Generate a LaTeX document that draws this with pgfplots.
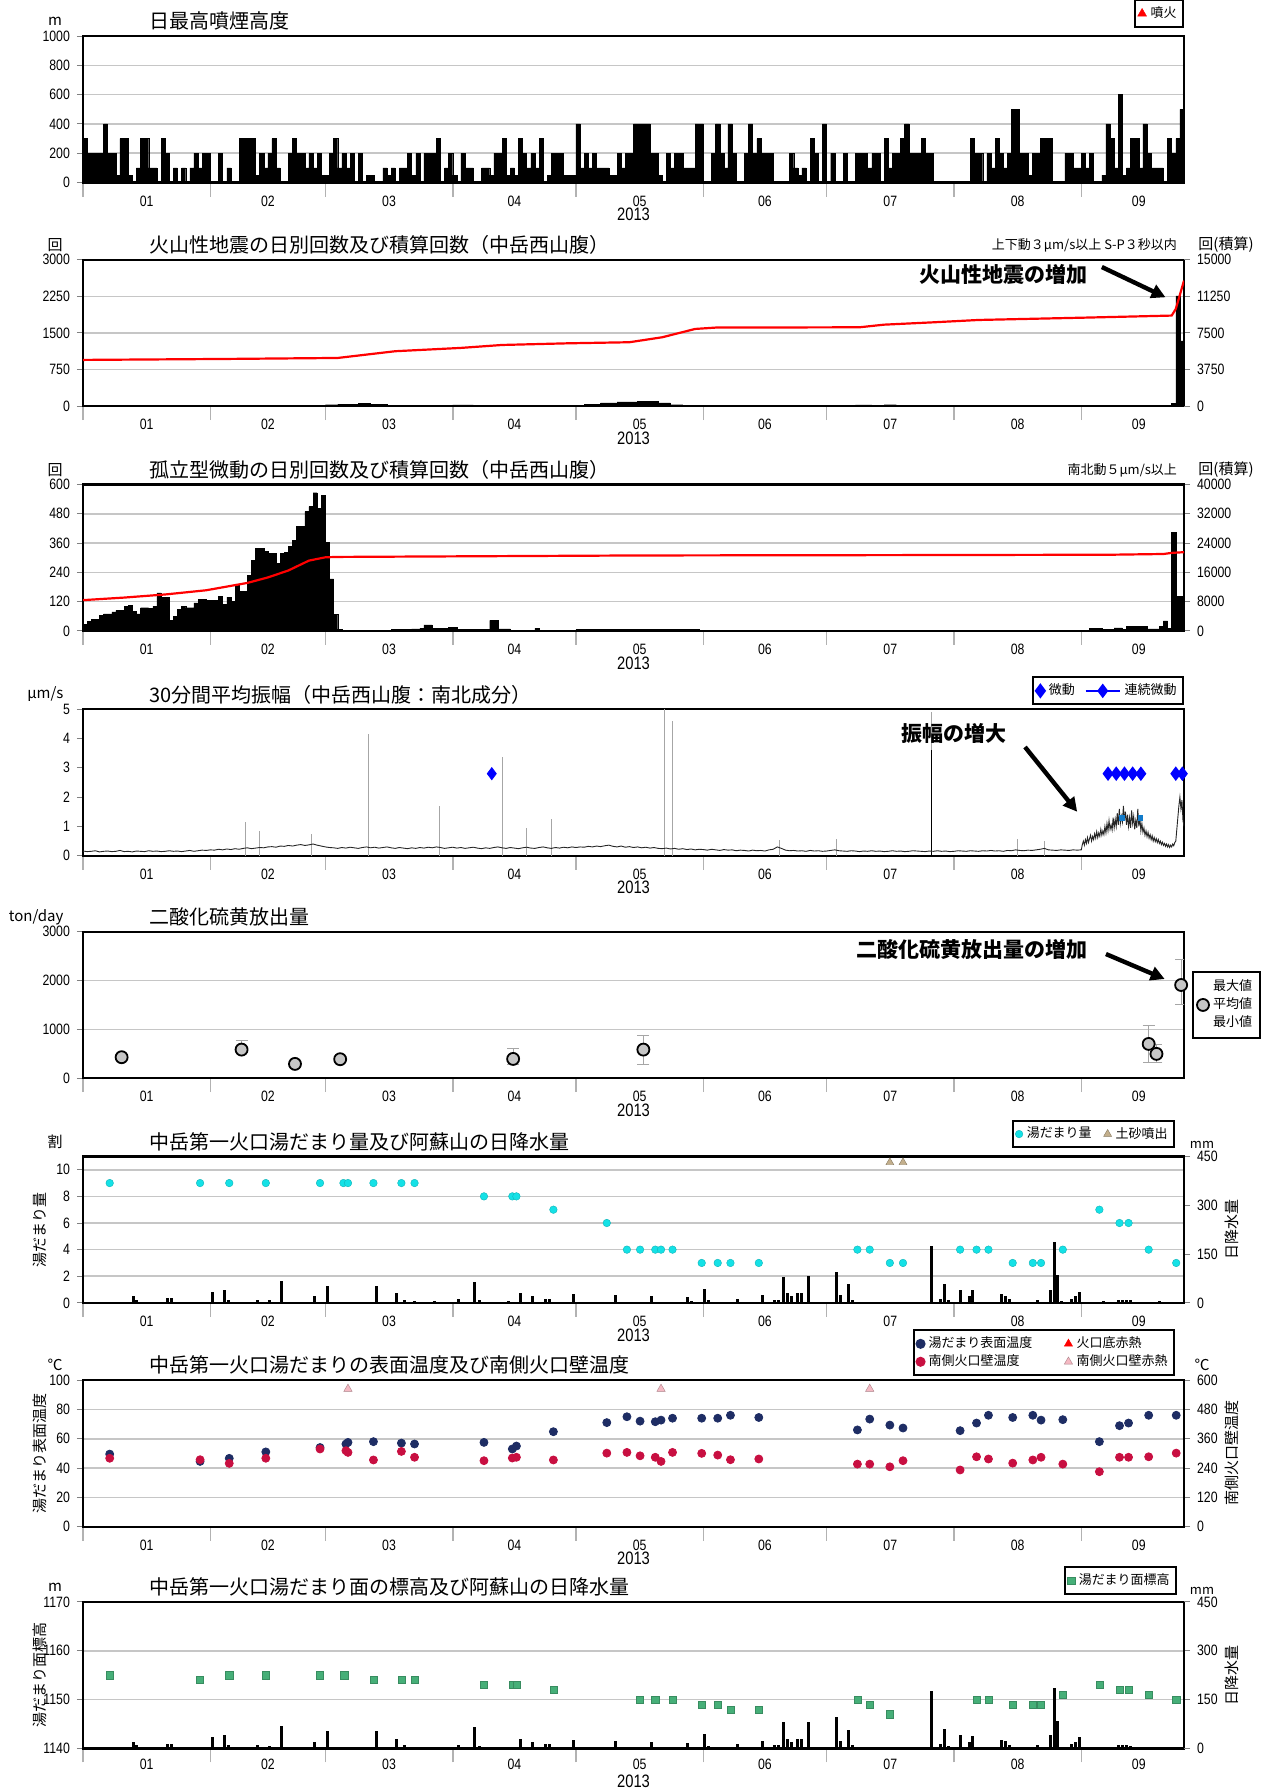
\documentclass[border=0pt]{standalone}
\usepackage{fontspec}
\setmainfont{Noto Sans CJK JP}
\newfontfamily\tf{Liberation Sans}[FakeStretch=0.82]
\usepackage{pgfplots}
\usepackage{pgfplotstable}
\pgfplotsset{compat=1.18}
\usetikzlibrary{arrows.meta}
\newcommand{\tk}{\tf\fontsize{7.5}{8}\selectfont}
\newcommand{\ty}{\tf\fontsize{9}{10}\selectfont}
\newcommand{\jt}{\fontsize{10}{11}\selectfont}
\newcommand{\jn}{\fontsize{6.5}{7}\selectfont}
\newcommand{\ju}{\fontsize{7.5}{8}\selectfont}
\newcommand{\jb}{\bfseries\fontsize{10.5}{11}\selectfont}
\definecolor{navy}{RGB}{30,45,100}
\definecolor{crim}{RGB}{200,15,65}
\definecolor{aqua}{RGB}{20,225,230}
\definecolor{tanc}{RGB}{195,175,140}
\definecolor{pinkt}{RGB}{245,185,195}
\definecolor{grn}{RGB}{70,175,120}
\pgfplotsset{
 base/.style={scale only axis, width=550.5pt, height=73.25pt, xmin=0, xmax=268,
  axis line style={line width=1.1pt},
  tick align=outside, major tick length=3pt, minor tick length=7pt,
  xtick={15.5,45,74.5,105,135.5,166,196.5,227.5,257},
  xticklabels={01,02,03,04,05,06,07,08,09},
  major x tick style={draw=none},
  minor xtick={0,31,59,90,120,151,181,212,243},
  minor x tick style={gray!60, line width=0.8pt},
  xtick pos=bottom, ytick pos=left,
  scaled y ticks=false,
  tick label style={font=\tk},
  ytick style={line width=0.5pt},
  ymajorgrids, grid style={gray!45, line width=0.8pt},
  legend cell align=left,
  legend style={draw=black, line width=1pt, font=\jn, at={(1,1)}, anchor=south east, inner sep=1.2pt, row sep=-1pt},
 },
 rbase/.style={scale only axis, width=550.5pt, height=73.25pt, xmin=0, xmax=268,
  axis x line=none, axis y line*=right, axis line style={line width=1.1pt}, scaled y ticks=false,
  tick align=outside, major tick length=3pt, tick label style={font=\tk}, ytick style={line width=0.5pt}},
}
\pgfplotstableread{
d mm
12.4 20
13 10
20.5 15
21.5 15
31.5 34
34.4 41
35.4 10
42.5 10
45.5 8
48.4 68
56.3 20
59.4 52
71.4 52
76.4 29
78.3 10
80.7 5
85.6 5
91.5 12
95.4 65
96.4 8
103.5 5
106.5 29
109.4 20
112.6 13
113.6 13
119.5 26
129.5 24
138.4 20
147.2 18
148.2 5
151.3 44
152.3 8
159.4 13
165.3 24
168.3 10
169.3 10
170.4 80
171.4 29
172.4 20
173.8 29
175 29
176.5 82
178.7 3
183.4 96
184.4 24
186.4 58
187.4 10
193.5 3
206.6 175
207.6 3
208.7 13
209.6 59
210.6 8
213.5 41
215.7 20
216.5 39
223.6 26
224.6 22
225.6 12
232.4 10
235.4 41
236.4 186
237.3 85
238.3 5
240.5 13
241.5 20
242.5 34
247.4 3
248.4 5
252 10
253 10
254 10
255 8
262 5
}\precip
\pgfplotstableread{
d s w
6.5 49.5 280
28.5 44.5 274
35.6 46.6 259
44.5 51 280
57.7 54 318
64 56.4 311
64.5 57.5 304
70.7 58 273
77.5 57 308
80.7 56.4 284
97.6 57.5 270
104.5 53 281
105.5 55 284
114.5 64.8 273
127.5 71 301
132.4 75 304
135.6 72 290
139.3 71.6 284
140.7 72.7 267
143.5 74 304
150.6 74 300
154.5 74 293
157.6 76 274
164.5 74.5 277
188.5 66 256
191.5 73.4 256
196.4 69.3 245
199.6 67.3 270
213.5 65.5 232
217.5 70.7 286
220.4 76 277
226.3 74.5 260
231.2 76 273
233.2 72.7 284
238.5 73 256
247.4 58 225
252.3 68.9 284
254.5 70.7 284
259.4 76 286
266.1 76 301
}\temps
\begin{document}
\begin{tikzpicture}
\useasboundingbox (0,0) rectangle (635.5pt,-894.5pt);
% ---------- Panel 1
\begin{axis}[base, name=p1, at={(41.5pt,-91.25pt)}, anchor=south west,
 ymin=0, ymax=1000, ytick={0,200,400,600,800,1000}, yticklabels={0,200,400,600,800,1000},
 legend style={yshift=4pt}]
\addplot[const plot, fill=black, draw=black, line width=0.2pt, forget plot] coordinates {
(0,300)(1,200)(5,400)(6,200)(8,50)(9,300)(11,50)(12,0)(13,100)(14,300)(16,100)(18,0)(19,300)(20,200)(21,0)(22,100)(23,0)(24,100)(25,0)(26,100)(27,200)(28,100)(29,200)(31,0)(33,200)(34,0)(35,100)(36,0)(38,300)(42,50)(43,200)(44,100)(45,200)(46,300)(47,100)(48,0)(50,200)(51,300)(52,200)(54,100)(55,200)(56,100)(57,200)(58,50)(60,200)(61,300)(62,100)(63,200)(64,100)(65,200)(66,0)(67,200)(68,0)(69,50)(71,0)(73,100)(74,50)(75,100)(76,0)(77,100)(79,200)(80,50)(81,200)(82,0)(83,200)(86,300)(87,0)(88,100)(89,200)(90,50)(91,0)(92,200)(93,100)(95,0)(97,100)(99,50)(100,200)(102,300)(103,50)(104,100)(105,50)(106,300)(107,200)(108,100)(109,200)(110,100)(111,300)(112,0)(113,50)(114,200)(117,50)(120,400)(121,100)(122,200)(123,100)(124,200)(125,100)(128,50)(130,200)(131,100)(132,200)(134,400)(138,200)(140,50)(141,0)(142,200)(143,100)(144,200)(146,100)(149,400)(151,0)(153,200)(154,400)(155,200)(156,100)(157,400)(158,200)(159,0)(161,200)(162,400)(163,200)(164,300)(165,200)(168,0)(172,200)(173,100)(174,50)(175,100)(176,0)(177,300)(178,200)(179,0)(180,400)(181,0)(182,200)(183,0)(185,200)(186,0)(188,200)(191,100)(192,200)(194,0)(195,300)(196,100)(197,200)(199,300)(200,400)(201,200)(204,300)(205,200)(207,0)(216,300)(217,200)(219,0)(220,200)(221,100)(222,300)(223,200)(224,100)(225,200)(226,500)(228,200)(230,50)(231,200)(233,300)(236,0)(239,200)(241,100)(243,200)(244,100)(245,200)(246,0)(248,50)(249,400)(250,300)(251,100)(252,600)(253,50)(254,100)(255,300)(257,100)(258,400)(259,200)(260,100)(263,0)(264,300)(265,200)(266,300)(267,500)(268,500)} \closedcycle;
\addlegendimage{only marks, mark=triangle*, mark size=2.6pt, mark options={fill=red, draw=red, line width=0.2pt}}
\addlegendentry{噴火}
\end{axis}
\node[anchor=west, font=\jt] at ([xshift=29.8pt, yshift=7.4pt]p1.north west) {日最高噴煙高度};
\node[font=\ju] at ([xshift=-14pt, yshift=7.4pt]p1.north west) {m};
\node[font=\ty] at ([yshift=-16pt]p1.south) {2013};
% ---------- Panel 2
\begin{axis}[base, name=p2, at={(41.5pt,-203.1pt)}, anchor=south west,
 ymin=0, ymax=3000, ytick={0,750,1500,2250,3000}, yticklabels={0,750,1500,2250,3000}]
\addplot[const plot, fill=black, draw=black, line width=0.2pt] coordinates {
(0,5)(59,30)(62,40)(67,60)(70,40)(74,20)(80,10)(90,25)(95,10)(100,20)(105,5)(122,40)(126,70)(130,90)(135,100)(140,70)(143,30)(146,5)(188,25)(192,15)(195,30)(198,10)(203,20)(206,5)(240,10)(265,60)(266,2260)(267,1340)(268,1340)} \closedcycle;
\node[font=\jb] at (axis cs:224,2707) {火山性地震の増加};
\draw[line width=2.2pt, -{Triangle[length=7pt,width=7pt]}] (axis cs:248,2850) -- (axis cs:263.5,2230);
\end{axis}
\begin{axis}[rbase, at={(41.5pt,-203.1pt)}, anchor=south west,
 ymin=0, ymax=15000, ytick={0,3750,7500,11250,15000}, yticklabels={0,3750,7500,11250,15000}]
\addplot[red, line width=1.1pt] coordinates {
(0,4740)(35,4840)(62,4940)(76,5630)(92,5970)(102,6270)(118,6440)(133,6550)(141,7060)(149,7910)(154,8050)(189,8080)(195,8350)(207,8590)(218,8830)(244,9070)(265,9280)(266,9960)(268,12860)};
\end{axis}
\node[anchor=west, font=\jt] at ([xshift=29.8pt, yshift=7.4pt]p2.north west) {火山性地震の日別回数及び積算回数（中岳西山腹）};
\node[font=\ju] at ([xshift=-14pt, yshift=7.4pt]p2.north west) {回};
\node[font=\ju] at ([xshift=21pt, yshift=7.4pt]p2.north east) {回(積算)};
\node[anchor=east, font=\jn] at ([xshift=0pt, yshift=7pt]p2.north east) {上下動３μm/s以上 S-P３秒以内};
\node[font=\ty] at ([yshift=-16pt]p2.south) {2013};
% ---------- Panel 3
\begin{axis}[base, name=p3, at={(41.5pt,-315.45pt)}, anchor=south west,
 ymin=0, ymax=600, ytick={0,120,240,360,480,600}, yticklabels={0,120,240,360,480,600}]
\addplot[const plot, fill=black, draw=black, line width=0.2pt] coordinates {
(0,27)(1,40)(2,47)(4,64)(5,70)(7,78)(8,84)(10,100)(11,106)(12,80)(13,70)(14,95)(16,92)(17,100)(18,156)(19,138)(21,43)(22,61)(23,88)(24,100)(25,95)(27,115)(28,129)(30,125)(33,142)(34,109)(35,138)(36,122)(37,187)(38,163)(40,228)(41,288)(42,337)(44,326)(45,318)(47,278)(48,318)(49,323)(50,346)(51,372)(52,427)(54,489)(55,509)(56,566)(57,502)(58,554)(59,364)(60,213)(61,68)(62,7)(63,3)(75,5)(80,8)(82,10)(83,25)(85,10)(89,16)(91,5)(99,43)(101,8)(104,3)(110,10)(111,3)(120,5)(150,2)(245,10)(248,5)(251,12)(253,5)(254,20)(259,8)(262,20)(263,41)(264,10)(265,403)(266,142)(268,142)} \closedcycle;
\end{axis}
\begin{axis}[rbase, at={(41.5pt,-315.45pt)}, anchor=south west,
 ymin=0, ymax=40000, ytick={0,8000,16000,24000,32000,40000}, yticklabels={0,8000,16000,24000,32000,40000}]
\addplot[red, line width=1.1pt] coordinates {
(0,8400)(10,9100)(20,9950)(30,11100)(40,13100)(45,14600)(50,16500)(55,19200)(59,20100)(62,20200)(135,20600)(200,20700)(250,20800)(263,21000)(265,21300)(268,21500)};
\end{axis}
\node[anchor=west, font=\jt] at ([xshift=29.8pt, yshift=7.4pt]p3.north west) {孤立型微動の日別回数及び積算回数（中岳西山腹）};
\node[font=\ju] at ([xshift=-14pt, yshift=7.4pt]p3.north west) {回};
\node[font=\ju] at ([xshift=21pt, yshift=7.4pt]p3.north east) {回(積算)};
\node[anchor=east, font=\jn] at ([xshift=0pt, yshift=7pt]p3.north east) {南北動５μm/s以上};
\node[font=\ty] at ([yshift=-16pt]p3.south) {2013};
% ---------- Panel 4
\begin{axis}[base, name=p4, at={(41.5pt,-427.85pt)}, anchor=south west,
 ymin=0, ymax=5, ytick={0,1,2,3,4,5}, yticklabels={0,1,2,3,4,5}, ymajorgrids=false,
 legend columns=2, legend style={yshift=2pt, /tikz/every even column/.append style={column sep=3pt}}]
\addplot[ycomb, gray!70, line width=0.5pt, forget plot] coordinates {
(39.5,1.14)(43,0.86)(55.7,0.75)(69.5,4.16)(86.7,1.7)(102,3.37)(108,0.94)(114,1.26)(141.5,5.0)(143.5,4.6)(169.5,0.54)(183.5,0.58)(206.5,4.9)(227.5,0.57)(234,0.49)};
\addplot[ycomb, black, line width=0.6pt, forget plot] coordinates {(206.5,3.6)};
\addplot[black!85, line width=0.45pt, forget plot] coordinates {
(0,.16)(1,.14)(2,.15)(3,.17)(4,.13)(5,.15)(6,.16)(7,.14)(8,.15)(9,.18)(10,.14)(11,.15)(12,.13)(13,.16)(14,.15)(15,.14)(16,.17)(17,.15)(18,.16)(19,.14)(20,.15)(21,.17)(22,.15)(23,.16)(24,.14)(25,.16)(26,.18)(27,.15)(28,.17)(29,.19)(30,.18)
(31,.2)(32,.19)(33,.22)(34,.2)(35,.23)(36,.21)(37,.24)(38,.22)(39,.25)(40,.27)(41,.24)(42,.26)(43,.28)(44,.27)(45,.3)
(46,.31)(47,.29)(48,.33)(49,.32)(50,.35)(51,.33)(52,.36)(53,.38)(54,.35)(55,.37)(56,.4)(57,.36)(58,.33)(59,.3)(60,.28)
(61,.27)(62,.25)(63,.28)(64,.26)(65,.29)(66,.27)(67,.25)(68,.28)(69,.3)(70,.27)(71,.29)(72,.26)(73,.28)(74,.3)(75,.27)(76,.25)(77,.28)(78,.26)(79,.24)(80,.27)(81,.25)(82,.28)(83,.26)(84,.29)(85,.27)(86,.3)(87,.28)(88,.25)(89,.27)(90,.29)(91,.26)(92,.28)(93,.25)(94,.27)(95,.29)(96,.26)(97,.24)(98,.27)(99,.25)(100,.28)(101,.3)(102,.27)(103,.25)(104,.28)(105,.26)(106,.24)(107,.27)(108,.29)(109,.26)(110,.25)(111,.28)(112,.3)(113,.27)(114,.25)(115,.28)(116,.26)(117,.29)(118,.27)(119,.3)(120,.28)
(121,.3)(122,.29)(123,.32)(124,.3)(125,.33)(126,.31)(127,.34)(128,.36)(129,.32)(130,.3)(131,.33)(132,.29)(133,.31)(134,.28)(135,.3)(136,.27)(137,.29)(138,.26)(139,.28)(140,.25)
(141,.24)(142,.26)(143,.23)(144,.25)(145,.22)(146,.24)(147,.21)(148,.23)(149,.2)(150,.22)(151,.21)(152,.19)(153,.22)(154,.2)(155,.18)(156,.21)(157,.19)(158,.2)(159,.17)(160,.19)
(161,.18)(162,.16)(163,.19)(164,.17)(165,.18)(166,.16)(167,.2)(168,.22)(169,.3)(170,.25)(171,.19)(172,.17)(173,.18)(174,.16)(175,.17)(176,.15)(177,.18)(178,.16)(179,.17)(180,.15)(181,.16)(182,.18)(183,.2)(184,.17)(185,.16)(186,.15)(187,.17)(188,.16)(189,.14)(190,.16)(191,.15)(192,.17)(193,.15)(194,.16)(195,.14)(196,.15)(197,.17)(198,.15)(199,.16)(200,.14)(201,.15)(202,.17)(203,.16)(204,.15)(205,.14)(206,.16)(207,.15)(208,.17)(209,.15)(210,.16)(211,.14)(212,.15)(213,.17)(214,.16)(215,.15)(216,.17)(217,.16)(218,.15)(219,.17)(220,.16)(221,.18)(222,.16)(223,.17)(224,.15)(225,.18)(226,.17)(227,.2)(228,.18)(229,.17)(230,.19)(231,.18)(232,.2)(233,.22)(234,.25)(235,.2)(236,.19)(237,.18)(238,.2)(239,.19)(240,.18)(241,.2)(242,.19)
(243,.2)(243.25,.38)(243.5,.5)(243.75,.36)(244,.55)(244.25,.42)(244.5,.62)(244.75,.45)(245,.58)(245.25,.7)(245.5,.5)(245.75,.66)(246,.55)(246.25,.75)(246.5,.6)(246.75,.82)(247,.62)(247.25,.78)(247.5,.66)(247.75,.9)(248,.7)(248.25,.85)(248.5,.72)(248.75,1.0)(249,.78)(249.25,1.1)(249.5,.85)(249.75,1.2)(250,.9)(250.25,1.05)(250.5,.88)(250.75,1.3)(251,.95)(251.25,1.25)(251.5,1.0)(251.75,1.45)(252,1.05)(252.25,1.6)(252.5,1.1)(252.75,1.35)(253,1.15)(253.25,1.7)(253.5,1.2)(253.75,1.5)(254,1.05)(254.25,1.4)(254.5,1.0)(254.75,1.3)(255,.95)(255.25,1.55)(255.5,1.1)(255.75,1.35)(256,.9)(256.25,1.2)(256.5,.95)(256.75,1.6)(257,1.0)(257.25,1.3)(257.5,.85)(257.75,1.1)(258,.8)(258.25,.95)(258.5,.7)(258.75,.85)(259,.65)(259.25,.8)(259.5,.6)(259.75,.72)(260,.55)(260.25,.68)(260.5,.5)(260.75,.62)(261,.48)(261.25,.58)(261.5,.45)(261.75,.55)(262,.42)(262.25,.5)(262.5,.38)(262.75,.46)(263,.35)(263.25,.42)(263.5,.32)(263.75,.4)(264,.3)(264.25,.38)(264.5,.28)(264.75,.36)(265,.3)(265.25,.4)(265.5,.34)(265.75,.45)(266,.5)(266.25,.9)(266.5,1.3)(266.75,1.7)(267,2.0)(267.25,1.6)(267.5,1.9)(267.75,1.2)(268,1.0)};
\addplot[only marks, mark=square*, mark size=1.2pt, color=cyan!60!blue, forget plot] coordinates {(252.9,1.3)(257.4,1.3)};
\addplot[only marks, mark=diamond*, mark size=3pt, color=blue] coordinates {(99.5,2.8)};
\addlegendentry{微動}
\addplot[blue, line width=0.8pt, mark=diamond*, mark size=3pt] coordinates {(249.5,2.8)(251.5,2.8)(253.5,2.8)(255.5,2.8)(257.5,2.8)};
\addlegendentry{連続微動}
\addplot[blue, line width=0.8pt, mark=diamond*, mark size=3pt, forget plot] coordinates {(266,2.8)(267.6,2.8)};
\node[font=\jb] at (axis cs:212,4.16) {振幅の増大};
\draw[line width=2.2pt, -{Triangle[length=7pt,width=7pt]}] (axis cs:229.3,3.71) -- (axis cs:242,1.5);
\end{axis}
\node[anchor=west, font=\jt] at ([xshift=29.8pt, yshift=7.4pt]p4.north west) {30分間平均振幅（中岳西山腹：南北成分）};
\node[font=\ju] at ([xshift=-18.8pt, yshift=7.4pt]p4.north west) {μm/s};
\node[font=\ty] at ([yshift=-16pt]p4.south) {2013};
% ---------- Panel 5
\begin{axis}[base, name=p5, at={(41.5pt,-539.1pt)}, anchor=south west,
 ymin=0, ymax=3000, ytick={0,1000,2000,3000}, yticklabels={0,1000,2000,3000},
 legend style={at={(1,0.5)}, anchor=west, xshift=4pt, inner sep=2pt}]
\addplot[only marks, mark=*, mark size=3pt, mark options={fill=gray!45, draw=black, line width=0.9pt},
 error bars/.cd, y dir=both, y explicit, error bar style={gray!70, line width=0.6pt}] coordinates {
(9.4,430) += (0,40) -= (0,40)
(38.6,586) += (0,184) -= (0,50)
(51.6,293) += (0,30) -= (0,30)
(62.6,389) += (0,31) -= (0,59)
(104.7,395) += (0,225) -= (0,122)
(136.4,586) += (0,287) -= (0,313)
(259.4,702) += (0,375) -= (0,375)
(261.3,498) += (0,192) -= (0,171)
(267.3,1909) += (0,531) -= (0,389)};
\addlegendimage{legend image code/.code={
 \draw[gray!70, line width=0.5pt] (0.15cm,-0.32cm) -- (0.15cm,0.32cm);
 \draw[gray!70, line width=0.5pt] (0.09cm,0.32cm) -- (0.21cm,0.32cm);
 \draw[gray!70, line width=0.5pt] (0.09cm,-0.32cm) -- (0.21cm,-0.32cm);
 \draw[black, fill=gray!45, line width=0.8pt] (0.15cm,0cm) circle (2.6pt);}}
\addlegendentry{\shortstack[l]{最大値\\平均値\\最小値}}
\node[font=\jb] at (axis cs:216.5,2645) {二酸化硫黄放出量の増加};
\draw[line width=2.2pt, -{Triangle[length=7pt,width=7pt]}] (axis cs:249,2543) -- (axis cs:263.3,2031);
\end{axis}
\node[anchor=west, font=\jt] at ([xshift=29.8pt, yshift=7.4pt]p5.north west) {二酸化硫黄放出量};
\node[font=\ju] at ([xshift=-23.4pt, yshift=7.4pt]p5.north west) {ton/day};
\node[font=\ty] at ([yshift=-16pt]p5.south) {2013};
% ---------- Panel 6
\begin{axis}[base, name=p6, at={(41.5pt,-651.45pt)}, anchor=south west,
 ymin=0, ymax=11, ytick={0,2,4,6,8,10}, yticklabels={0,2,4,6,8,10},
 legend columns=2, legend style={yshift=4pt, xshift=-4.5pt, /tikz/every even column/.append style={column sep=4pt}}]
\addplot[only marks, mark=*, mark size=1.9pt, mark options={fill=aqua, draw=aqua!80!black, line width=0.2pt}] coordinates {
(6.5,9)(28.5,9)(35.6,9)(44.5,9)(57.7,9)(63.4,9)(64.5,9)(70.7,9)(77.5,9)(80.7,9)(97.6,8)(104.5,8)(105.5,8)(114.5,7)(127.5,6)(132.4,4)(135.6,4)(139.3,4)(140.7,4)(143.5,4)(150.6,3)(154.5,3)(157.6,3)(164.5,3)(188.5,4)(191.5,4)(196.4,3)(199.6,3)(213.5,4)(217.5,4)(220.4,4)(226.3,3)(231.2,3)(233.2,3)(238.5,4)(247.4,7)(252.3,6)(254.5,6)(259.4,4)(266.1,3)};
\addlegendentry{湯だまり量}
\addplot[only marks, mark=triangle*, mark size=2.3pt, mark options={fill=tanc, draw=tanc!70!black, line width=0.2pt}] coordinates {(196.4,10.55)(199.6,10.55)};
\addlegendentry{土砂噴出}
\end{axis}
\begin{axis}[rbase, at={(41.5pt,-651.45pt)}, anchor=south west,
 ymin=0, ymax=450, ytick={0,150,300,450}, yticklabels={0,150,300,450}]
\addplot[ycomb, black, line width=1.5pt] table[x=d, y=mm] {\precip};
\end{axis}
\node[anchor=west, font=\jt] at ([xshift=29.8pt, yshift=7.4pt]p6.north west) {中岳第一火口湯だまり量及び阿蘇山の日降水量};
\node[font=\ju] at ([xshift=-14pt, yshift=7.4pt]p6.north west) {割};
\node[font=\jn] at ([xshift=9pt, yshift=5.7pt]p6.north east) {mm};
\node[rotate=90, font=\ju] at ([xshift=-21.5pt]p6.west) {湯だまり量};
\node[rotate=90, font=\ju] at ([xshift=24pt]p6.east) {日降水量};
\node[font=\ty] at ([yshift=-16pt]p6.south) {2013};
% ---------- Panel 7
\begin{axis}[base, name=p7, at={(41.5pt,-763.3pt)}, anchor=south west,
 ymin=0, ymax=100, ytick={0,20,40,60,80,100}, yticklabels={0,20,40,60,80,100},
 legend columns=2, legend style={yshift=2pt, xshift=-4.5pt, row sep=-2pt, /tikz/every even column/.append style={column sep=14pt}}]
\addplot[only marks, mark=*, mark size=2pt, mark options={fill=navy, draw=navy}] table[x=d, y=s] {\temps};
\addlegendentry{湯だまり表面温度}
\addlegendimage{only marks, mark=triangle*, mark size=2.4pt, mark options={fill=red, draw=red, line width=0.2pt}}
\addlegendentry{火口底赤熱}
\addplot[only marks, mark=*, mark size=2pt, mark options={fill=crim, draw=crim}] table[x=d, y expr=\thisrow{w}/6] {\temps};
\addlegendentry{南側火口壁温度}
\addplot[only marks, mark=triangle*, mark size=2.4pt, mark options={fill=pinkt, draw=pinkt!70!black, line width=0.2pt}] coordinates {(64.5,94)(140.7,94)(191.5,94)};
\addlegendentry{南側火口壁赤熱}
\end{axis}
\begin{axis}[rbase, at={(41.5pt,-763.3pt)}, anchor=south west,
 ymin=0, ymax=600, ytick={0,120,240,360,480,600}, yticklabels={0,120,240,360,480,600}]
\end{axis}
\node[anchor=west, font=\jt] at ([xshift=29.8pt, yshift=7.4pt]p7.north west) {中岳第一火口湯だまりの表面温度及び南側火口壁温度};
\node[font=\ju] at ([xshift=-14pt, yshift=7.4pt]p7.north west) {℃};
\node[font=\ju] at ([xshift=9pt, yshift=7.4pt]p7.north east) {℃};
\node[rotate=90, font=\ju] at ([xshift=-21.5pt]p7.west) {湯だまり表面温度};
\node[rotate=90, font=\ju] at ([xshift=24pt]p7.east) {南側火口壁温度};
\node[font=\ty] at ([yshift=-16pt]p7.south) {2013};
% ---------- Panel 8
\begin{axis}[base, name=p8, at={(41.5pt,-874.2pt)}, anchor=south west,
 ymin=1140, ymax=1170, ytick={1140,1150,1160,1170}, yticklabels={1140,1150,1160,1170},
 xticklabel style={yshift=1.2pt},
 legend style={yshift=3.5pt, xshift=-3.5pt}]
\addplot[only marks, mark=square*, mark size=1.8pt, mark options={fill=grn, draw=grn!80!black, line width=0.2pt}] coordinates {
(6.5,1155)(28.5,1154)(35.6,1155)(44.5,1155)(57.7,1155)(63.6,1155)(70.7,1154)(77.5,1154)(80.7,1154)(97.6,1153)(104.5,1153)(105.5,1153)(114.5,1152)(135.6,1150)(139.3,1150)(143.5,1150)(150.6,1149)(154.5,1149)(157.6,1148)(164.5,1148)(188.5,1150)(191.5,1149)(196.4,1147)(217.5,1150)(220.4,1150)(226.3,1149)(231.2,1149)(233.2,1149)(238.5,1151)(247.4,1153)(252.3,1152)(254.5,1152)(259.4,1151)(266.1,1150)};
\addlegendentry{湯だまり面標高}
\end{axis}
\begin{axis}[rbase, at={(41.5pt,-874.2pt)}, anchor=south west,
 ymin=0, ymax=450, ytick={0,150,300,450}, yticklabels={0,150,300,450}]
\addplot[ycomb, black, line width=1.5pt] table[x=d, y=mm] {\precip};
\end{axis}
\node[anchor=west, font=\jt] at ([xshift=29.8pt, yshift=7.4pt]p8.north west) {中岳第一火口湯だまり面の標高及び阿蘇山の日降水量};
\node[font=\ju] at ([xshift=-14pt, yshift=7.4pt]p8.north west) {m};
\node[font=\jn] at ([xshift=9pt, yshift=5.7pt]p8.north east) {mm};
\node[rotate=90, font=\ju] at ([xshift=-21.5pt]p8.west) {湯だまり面標高};
\node[rotate=90, font=\ju] at ([xshift=24pt]p8.east) {日降水量};
\node[font=\ty, inner sep=0pt] at ([yshift=-16.4pt]p8.south) {2013};
\end{tikzpicture}
\end{document}
